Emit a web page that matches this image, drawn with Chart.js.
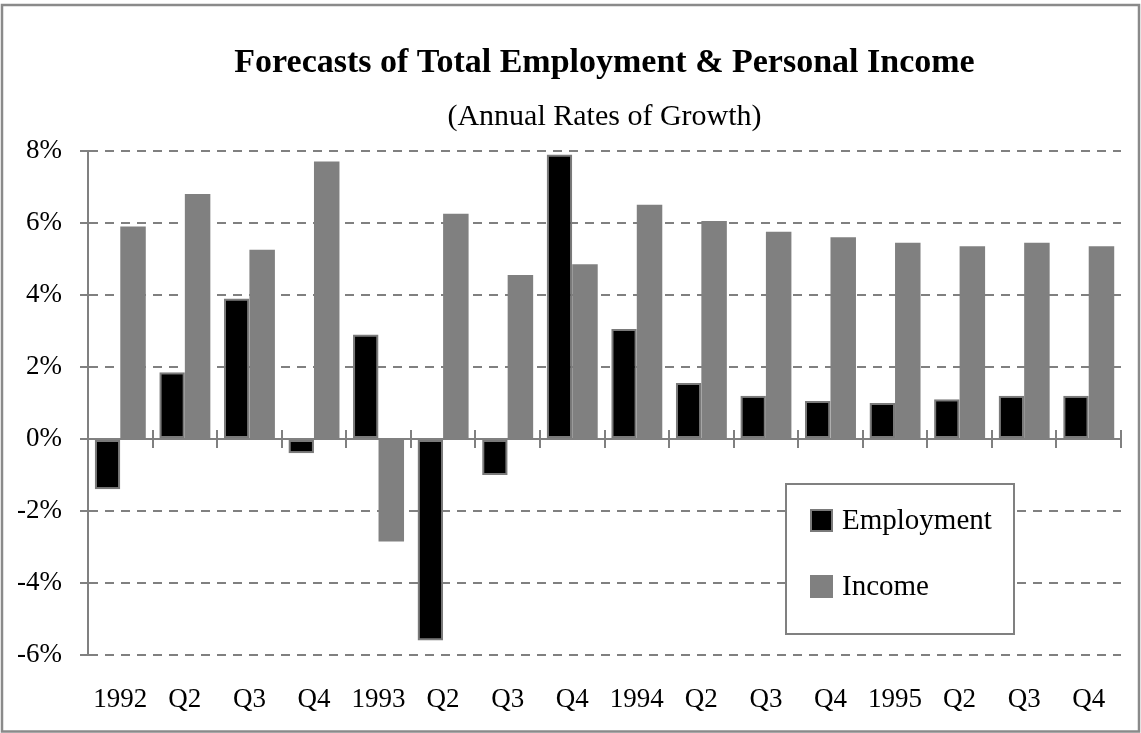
<!DOCTYPE html>
<html><head><meta charset="utf-8">
<script src="https://cdn.jsdelivr.net/npm/chart.js@4/dist/chart.umd.min.js"></script>
<style>html,body{margin:0;padding:0;background:#fff;} #wrap{position:relative;width:1141px;height:733px;}</style>
</head><body><div id="wrap"><canvas id="c" width="1141" height="733"></canvas></div>
<script>
const categories = ['1992','Q2','Q3','Q4','1993','Q2','Q3','Q4','1994','Q2','Q3','Q4','1995','Q2','Q3','Q4'];
const employment = [-1.4, 1.85, 3.9, -0.4, 2.9, -5.6, -1.0, 7.9, 3.05, 1.55, 1.2, 1.05, 1.0, 1.1, 1.2, 1.2];
const income = [5.9, 6.8, 5.25, 7.7, -2.85, 6.25, 4.55, 4.85, 6.5, 6.05, 5.75, 5.6, 5.45, 5.35, 5.45, 5.35];
const yTicks = [-6, -4, -2, 0, 2, 4, 6, 8];
const titleText = 'Forecasts of Total Employment & Personal Income';
const subtitleText = '(Annual Rates of Growth)';
const seriesNames = ['Employment', 'Income'];

const FONT = "'Liberation Serif', 'DejaVu Serif', serif";
const GREY = '#808080';

const frame = {
  id: 'frame',
  afterDraw(chart) {
    const ctx = chart.ctx;
    ctx.save();
    ctx.strokeStyle = '#8a8a8a';
    ctx.lineWidth = 2.5;
    ctx.strokeRect(2, 5, 1137, 726.5);
    ctx.restore();
  }
};

const zeroTicks = {
  id: 'zeroTicks',
  afterDatasetsDraw(chart) {
    const x = chart.scales.x, y = chart.scales.y;
    const y0 = y.getPixelForValue(0);
    const ctx = chart.ctx;
    ctx.save();
    ctx.strokeStyle = GREY;
    ctx.lineWidth = 2;
    ctx.beginPath();
    for (let i = 1; i <= categories.length; i++) {
      const xp = Math.round(x.getPixelForValue(i - 0.5));
      ctx.moveTo(xp, y0 - 9);
      ctx.lineTo(xp, y0 + 9);
    }
    ctx.stroke();
    ctx.restore();
  }
};

const boxLegend = {
  id: 'boxLegend',
  afterDraw(chart) {
    const ctx = chart.ctx;
    const bx = 786, by = 484, bw = 228, bh = 150;
    ctx.save();
    ctx.fillStyle = '#fff';
    ctx.fillRect(bx, by, bw, bh);
    ctx.strokeStyle = GREY;
    ctx.lineWidth = 2;
    ctx.strokeRect(bx, by, bw, bh);
    chart.data.datasets.forEach((ds, i) => {
      const sy = by + 25 + i * 66;
      ctx.fillStyle = ds.backgroundColor;
      ctx.fillRect(bx + 24, sy, 23, 23);
      if (ds.borderWidth) {
        ctx.strokeStyle = ds.borderColor;
        ctx.lineWidth = 2;
        ctx.strokeRect(bx + 25, sy + 1, 21, 21);
      }
      ctx.fillStyle = '#000';
      ctx.font = '29px ' + FONT;
      ctx.textBaseline = 'middle';
      ctx.textAlign = 'left';
      ctx.fillText(ds.label, bx + 56, sy + 12);
    });
    ctx.restore();
  }
};

new Chart(document.getElementById('c'), {
  type: 'bar',
  data: {
    labels: categories,
    datasets: [
      { label: seriesNames[0], data: employment, backgroundColor: '#000000', borderColor: '#7a7a7a', borderWidth: 2, borderSkipped: false },
      { label: seriesNames[1], data: income, backgroundColor: GREY, borderWidth: 0 }
    ]
  },
  options: {
    responsive: false,
    animation: false,
    devicePixelRatio: 1,
    layout: { padding: { left: 0, right: 20, top: 4, bottom: 0 } },
    datasets: { bar: { categoryPercentage: 0.79, barPercentage: 1.0 } },
    plugins: {
      legend: { display: false },
      tooltip: { enabled: false },
      title: {
        display: true, text: titleText, fullSize: false, color: '#000',
        font: { family: FONT, size: 34, weight: 'bold' },
        padding: { top: 39, bottom: 15 }
      },
      subtitle: {
        display: true, text: subtitleText, fullSize: false, color: '#000',
        font: { family: FONT, size: 30 },
        padding: { top: 0, bottom: 16 }
      }
    },
    scales: {
      x: {
        grid: { display: false },
        border: { display: false },
        ticks: { color: '#000', font: { family: FONT, size: 27 }, padding: 21, maxRotation: 0, autoSkip: false },
        afterFit: s => { s.height = 78; }
      },
      y: {
        min: -6, max: 8,
        afterBuildTicks: s => { s.ticks = yTicks.map(v => ({ value: v })); },
        grid: { color: GREY, lineWidth: 2, drawTicks: true, tickLength: 8, tickColor: GREY, tickWidth: 2 },
        border: { display: true, color: GREY, width: 2, dash: ctx => (ctx.tick && ctx.tick.value === 0) ? [] : [9, 7] },
        ticks: { color: '#000', font: { family: FONT, size: 27 }, padding: 18, callback: v => v + '%' },
        afterFit: s => { s.width = 88; }
      }
    }
  },
  plugins: [frame, zeroTicks, boxLegend]
});
</script>
</body></html>
